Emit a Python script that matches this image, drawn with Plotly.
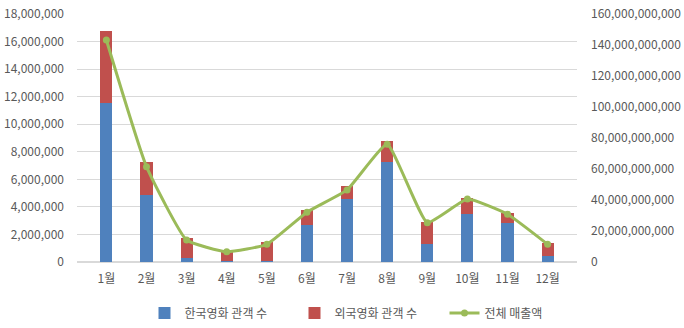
import plotly.graph_objects as go

months = ["1월", "2월", "3월", "4월", "5월", "6월", "7월", "8월", "9월", "10월", "11월", "12월"]
korean = [11540000, 4860000, 300000, 50000, 100000, 2690000, 4570000, 7280000, 1280000, 3460000, 2810000, 460000]
foreign = [5230000, 2420000, 1420000, 700000, 1370000, 1080000, 950000, 1520000, 1650000, 1160000, 720000, 900000]
revenue = [143200000000, 61500000000, 14200000000, 6600000000, 11400000000, 32100000000,
           46500000000, 75900000000, 25400000000, 40600000000, 30800000000, 11400000000]

left_ticks = list(range(0, 18000001, 2000000))
right_ticks = list(range(0, 160000000001, 20000000000))

font_family = "Noto Sans CJK KR"
gray = "#595959"

fig = go.Figure()
fig.add_trace(go.Bar(x=months, y=korean, name="한국영화 관객 수", marker_color="#4F81BD",
                     marker_line_width=0, width=0.3))
fig.add_trace(go.Bar(x=months, y=foreign, name="외국영화 관객 수", marker_color="#C0504D",
                     marker_line_width=0, width=0.3))
fig.add_trace(go.Scatter(x=months, y=revenue, name="전체 매출액", yaxis="y2", mode="lines+markers",
                         line=dict(color="#9BBB59", width=3, shape="spline", smoothing=0.4),
                         marker=dict(color="#9BBB59", size=7)))

fig.update_layout(
    width=684, height=328,
    margin=dict(l=77, r=107, t=14, b=66, autoexpand=False),
    barmode="stack",
    plot_bgcolor="white", paper_bgcolor="white",
    font=dict(family=font_family, color=gray, size=11),
    showlegend=True,
    legend=dict(orientation="h", x=0.585, xanchor="center", yref="container", y=0.046, yanchor="middle",
                font=dict(size=12, color=gray), traceorder="normal",
                entrywidth=105, entrywidthmode="pixels"),
    xaxis=dict(showgrid=False, showline=False, ticks="", ticklabelstandoff=8, automargin=False,
               tickfont=dict(size=12, color=gray)),
    yaxis=dict(range=[0, 18000000], tickvals=left_ticks, tickformat=",", showgrid=True,
               gridcolor="#D9D9D9", gridwidth=1, zeroline=True, zerolinecolor="#D9D9D9",
               showline=False, ticks="", ticklabelstandoff=12, automargin=False,
               tickfont=dict(size=12, color=gray)),
    yaxis2=dict(range=[0, 160000000000], tickvals=right_ticks, tickformat=",", overlaying="y",
                side="right", showgrid=False, zeroline=False, showline=False, ticks="",
                ticklabelstandoff=13, automargin=False, tickfont=dict(size=12, color=gray)),
)

fig.write_html("out.html")
